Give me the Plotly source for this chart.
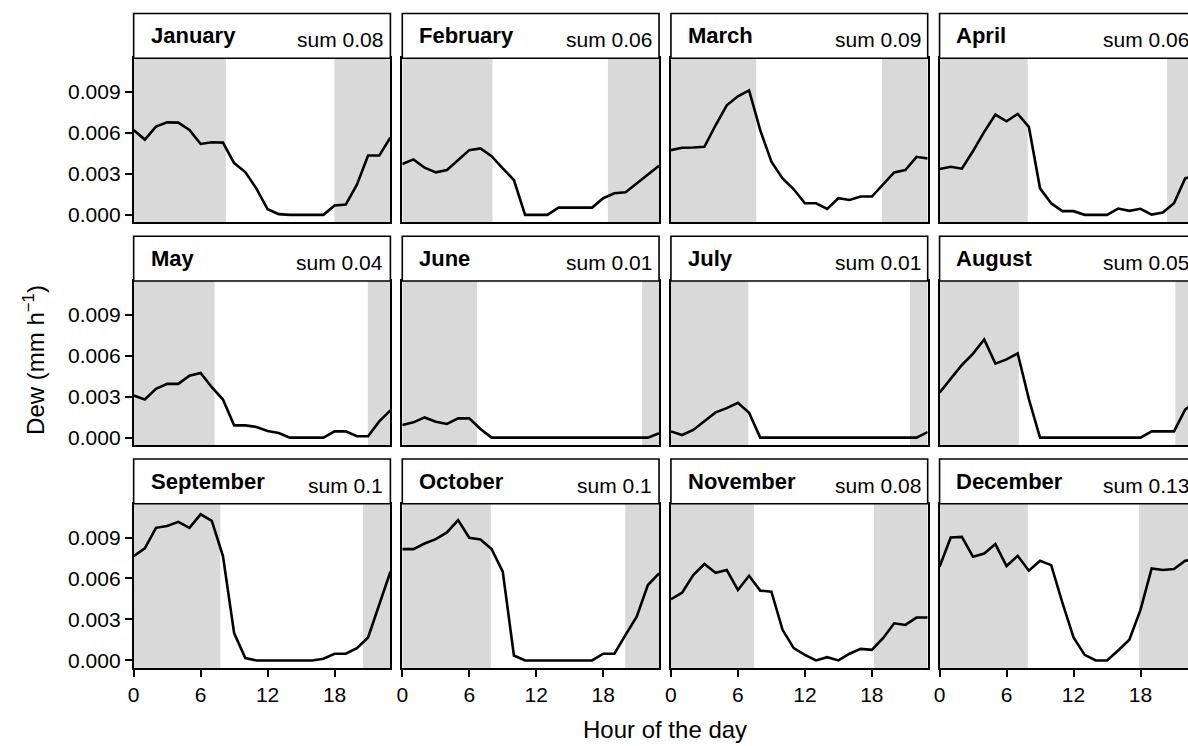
import plotly.graph_objects as go

# ---------------- data ----------------
hours = list(range(24))
months = ["January", "February", "March", "April", "May", "June",
          "July", "August", "September", "October", "November", "December"]
sum_labels = ["sum 0.08", "sum 0.06", "sum 0.09", "sum 0.06", "sum 0.04", "sum 0.01",
              "sum 0.01", "sum 0.05", "sum 0.1", "sum 0.1", "sum 0.08", "sum 0.13"]
# night shading: end of morning night, start of evening night (hours)
night_end = [8.26, 8.08, 7.64, 7.90, 7.25, 6.69, 6.93, 7.10, 7.76, 7.93, 7.43, 7.90]
night_start = [17.98, 18.42, 18.90, 20.38, 20.98, 21.48, 21.42, 21.12, 20.53, 19.97, 18.18, 17.86]

dew_jan = [0.00621, 0.00551, 0.00646, 0.00677, 0.00675, 0.00621, 0.00519, 0.00532, 0.00529, 0.00379,
           0.00313, 0.00192, 0.00041, 0.00005, 0.0, 0.0, 0.0, 0.0, 0.00068, 0.00075,
           0.00221, 0.00434, 0.00434, 0.00566]
dew_feb = [0.00372, 0.00406, 0.00345, 0.00311, 0.00328, 0.00401, 0.00474, 0.00486, 0.00430, 0.00340,
           0.00255, 0.0, 0.0, 0.0, 0.00053, 0.00053, 0.00053, 0.00053, 0.00122, 0.00158,
           0.00165, 0.00231, 0.00299, 0.00360]
dew_mar = [0.00474, 0.00491, 0.00493, 0.00498, 0.00656, 0.00802, 0.00868, 0.00911, 0.00620, 0.00389,
           0.00267, 0.00187, 0.00085, 0.00085, 0.00044, 0.00122, 0.00109, 0.00134, 0.00134, 0.00226,
           0.00311, 0.00328, 0.00425, 0.00413]
dew_apr = [0.00335, 0.00352, 0.00338, 0.00467, 0.00608, 0.00734, 0.00685, 0.00739, 0.00644, 0.00194,
           0.00085, 0.00027, 0.00027, 0.0, 0.0, 0.0, 0.00046, 0.00029, 0.00044, 0.00002,
           0.00017, 0.00085, 0.00267, 0.00290]
dew_may = [0.00309, 0.00279, 0.00357, 0.00394, 0.00394, 0.00454, 0.00474, 0.00369, 0.00279, 0.00090,
           0.00090, 0.00078, 0.00049, 0.00034, 0.0, 0.0, 0.0, 0.0, 0.00046, 0.00046,
           0.00010, 0.00010, 0.00119, 0.00200]
dew_jun = [0.00092, 0.00112, 0.00148, 0.00117, 0.00100, 0.00141, 0.00141, 0.00063, 0.0, 0.0,
           0.0, 0.0, 0.0, 0.0, 0.0, 0.0, 0.0, 0.0, 0.0, 0.0,
           0.0, 0.0, 0.0, 0.00032]
dew_jul = [0.00046, 0.00019, 0.00056, 0.00124, 0.00185, 0.00216, 0.00255, 0.00182, 0.0, 0.0,
           0.0, 0.0, 0.0, 0.0, 0.0, 0.0, 0.0, 0.0, 0.0, 0.0,
           0.0, 0.0, 0.0, 0.00041]
dew_aug = [0.00330, 0.00428, 0.00532, 0.00615, 0.00719, 0.00542, 0.00573, 0.00617, 0.00282, 0.0,
           0.0, 0.0, 0.0, 0.0, 0.0, 0.0, 0.0, 0.0, 0.0, 0.00046,
           0.00046, 0.00046, 0.00205, 0.00270]
dew_sep = [0.00764, 0.00820, 0.00971, 0.00985, 0.01015, 0.00971, 0.01070, 0.01022, 0.00764, 0.00200,
           0.00017, 0.0, 0.0, 0.0, 0.0, 0.0, 0.0, 0.00012, 0.00049, 0.00049,
           0.00090, 0.00168, 0.00414, 0.00650]
dew_oct = [0.00815, 0.00815, 0.00856, 0.00888, 0.00937, 0.01027, 0.00898, 0.00886, 0.00815, 0.00650,
           0.00036, 0.0, 0.0, 0.0, 0.0, 0.0, 0.0, 0.0, 0.00049, 0.00049,
           0.00187, 0.00321, 0.00552, 0.00637]
dew_nov = [0.00448, 0.00496, 0.00625, 0.00706, 0.00642, 0.00662, 0.00516, 0.00620, 0.00511, 0.00504,
           0.00224, 0.00090, 0.00041, 0.0, 0.00024, 0.0, 0.00049, 0.00085, 0.00078, 0.00163,
           0.00272, 0.00260, 0.00314, 0.00314]
dew_dec = [0.00686, 0.00900, 0.00905, 0.00759, 0.00783, 0.00852, 0.00691, 0.00766, 0.00657, 0.00730,
           0.00698, 0.00423, 0.00168, 0.00041, 0.0, 0.0, 0.00073, 0.00151, 0.00370, 0.00674,
           0.00662, 0.00669, 0.00730, 0.00740]
dew_series = [dew_jan, dew_feb, dew_mar, dew_apr, dew_may, dew_jun,
              dew_jul, dew_aug, dew_sep, dew_oct, dew_nov, dew_dec]

x_tickvals = [0, 6, 12, 18]
y_tickvals = [0.0, 0.003, 0.006, 0.009]
y_ticktext = ["0.000", "0.003", "0.006", "0.009"]

# ---------------- layout geometry (pixels) ----------------
W, H = 1188, 746
PX_PER_HOUR = 11.22
col_left = [128.3, 398.3, 668.3, 938.3]
row_top = [58.5, 282.5, 506.5]
PLOT_H = 165.0
STRIP_H = 45.0
Y_RANGE = [-0.000546, 0.01147]
FONT = "Liberation Sans, Arial, sans-serif"

fig = go.Figure()
layout = dict(
    width=W, height=H,
    margin=dict(l=0, r=0, t=0, b=0),
    paper_bgcolor="white", plot_bgcolor="white",
    showlegend=False,
    font=dict(family=FONT, size=21, color="black"),
)
shapes = []
annotations = []

for i, m in enumerate(months):
    r, c = divmod(i, 4)
    n = i + 1
    xa = "xaxis" if n == 1 else f"xaxis{n}"
    ya = "yaxis" if n == 1 else f"yaxis{n}"
    xr = "x" if n == 1 else f"x{n}"
    yr = "y" if n == 1 else f"y{n}"

    left = col_left[c]
    right_full = left + (hours[-1] - hours[0]) * PX_PER_HOUR
    right = min(right_full, W)
    xmax = (right - left) / PX_PER_HOUR
    top = row_top[r]
    bottom = top + PLOT_H

    fig.add_trace(go.Scatter(x=hours, y=dew_series[i], mode="lines",
                             line=dict(color="black", width=2.6),
                             xaxis=xr, yaxis=yr, hoverinfo="skip"))

    bottom_row = (r == 2)
    first_col = (c == 0)
    layout[xa] = dict(
        domain=[left / W, right / W], anchor=yr, range=[0, xmax],
        showgrid=False, zeroline=False,
        showline=True, mirror=True, linecolor="black", linewidth=1.6,
        tickvals=x_tickvals, ticks="outside" if bottom_row else "",
        ticklen=7, tickwidth=1.5, tickcolor="black",
        showticklabels=bottom_row, tickfont=dict(size=21, family=FONT),
    )
    layout[ya] = dict(
        domain=[1 - bottom / H, 1 - top / H], anchor=xr, range=Y_RANGE,
        showgrid=False, zeroline=False,
        showline=True, mirror=(right_full <= W), linecolor="black", linewidth=1.6,
        tickvals=y_tickvals, ticktext=y_ticktext,
        ticks="outside" if first_col else "",
        ticklen=7, tickwidth=1.5, tickcolor="black",
        showticklabels=first_col, tickfont=dict(size=21, family=FONT),
    )

    # night shading
    for x0, x1 in [(hours[0], night_end[i]), (night_start[i], hours[-1])]:
        shapes.append(dict(type="rect", xref=xr, yref=f"{yr} domain",
                           x0=x0, x1=x1, y0=0, y1=1, fillcolor="#d9d9d9",
                           line=dict(width=0), layer="below"))

    # strip box
    shapes.append(dict(type="rect", xref="paper", yref="paper",
                       x0=left / W, x1=right_full / W,
                       y0=1 - top / H, y1=1 - (top - STRIP_H) / H,
                       fillcolor="white", line=dict(color="black", width=1.6)))
    annotations.append(dict(xref="paper", yref="paper",
                            x=(left + 15) / W, y=1 - (top - 22.5) / H,
                            xanchor="left", yanchor="middle", showarrow=False,
                            text=f"<b>{m}</b>", font=dict(size=22, family=FONT)))
    annotations.append(dict(xref="paper", yref="paper",
                            x=(left + 253) / W, y=1 - (top - 18.5) / H,
                            xanchor="right", yanchor="middle", showarrow=False,
                            text=sum_labels[i], font=dict(size=21, family=FONT)))

annotations.append(dict(xref="paper", yref="paper", x=28 / W, y=1 - 362 / H,
                        xanchor="center", yanchor="middle", showarrow=False,
                        textangle=-90, text="Dew (mm h<sup>\u22121</sup>)",
                        font=dict(size=24, family=FONT)))
annotations.append(dict(xref="paper", yref="paper", x=662 / W, y=1 - 733 / H,
                        xanchor="center", yanchor="middle", showarrow=False,
                        text="Hour of the day", font=dict(size=24, family=FONT)))

layout["shapes"] = shapes
layout["annotations"] = annotations
fig.update_layout(**layout)
fig.write_html(
    "out.html",
    config={"displayModeBar": False},
    post_script="document.body.style.margin='0';document.body.style.overflow='hidden';",
)
